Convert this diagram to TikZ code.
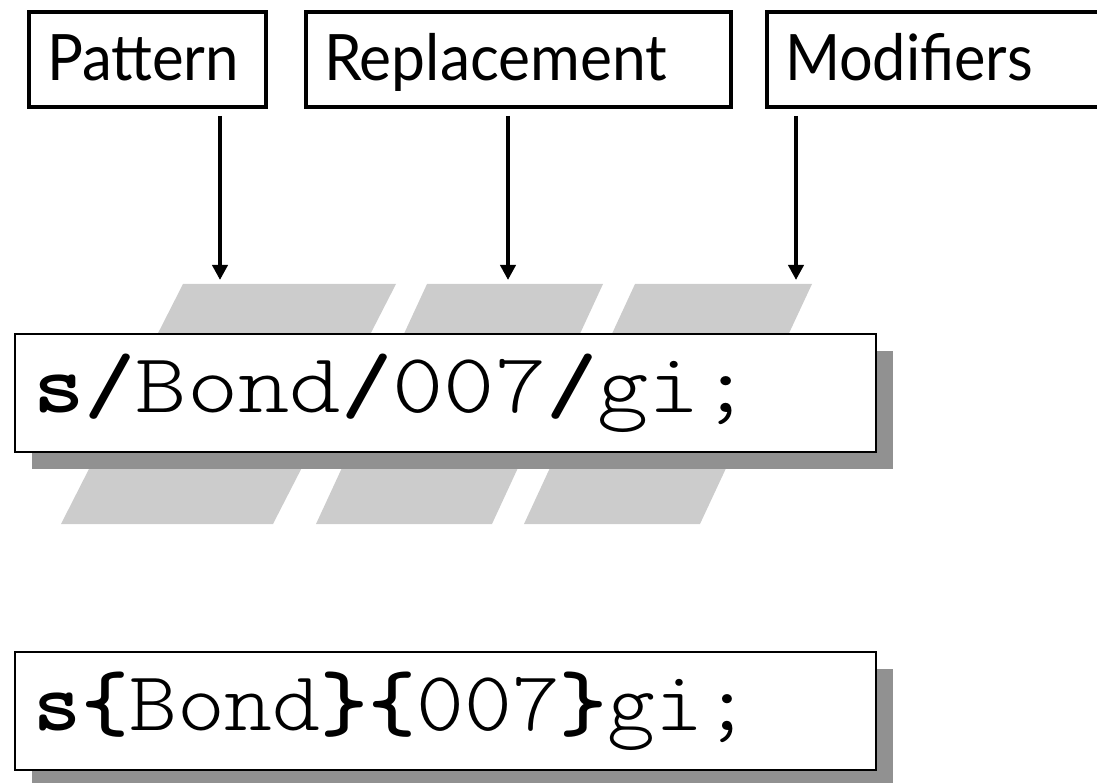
\documentclass[tikz,border=0pt]{standalone}
\usepackage{fontspec}
\newfontfamily\labelfont{Lato}
\newfontfamily\codefont[BoldFont=lmmonolt10-bold.otf]{lmmonolt10-regular.otf}
\usetikzlibrary{arrows.meta,shadows}
\definecolor{stripegray}{HTML}{CCCCCC}
\definecolor{shadowgray}{HTML}{919191}
% stretch a text box to a given width, keeping its natural height
\newcommand\fitw[2]{\resizebox{#1}{\height}{#2}}
\tikzset{
  labelbox/.style={draw, line width=4pt, anchor=north west, inner xsep=18pt, inner ysep=0pt,
    minimum height=95pt, align=left, text height=43pt, text depth=0pt,
    font=\labelfont\fontsize{64}{70}\selectfont},
  codebox/.style={draw, line width=2pt, fill=white, anchor=north west, inner xsep=18.7pt, inner ysep=0pt,
    minimum width=861.3pt, minimum height=118.3pt, text width=823.9pt, align=left,
    text height=40pt, text depth=0pt,
    drop shadow={shadow xshift=17pt, shadow yshift=-17pt, fill=shadowgray, opacity=1},
    font=\codefont\fontsize{84.6}{90}\selectfont},
  pointer/.style={line width=4pt, -{Triangle[length=15pt,width=15pt]}, shorten <=7pt},
  stripe/.style={fill=stripegray}
}
\begin{document}
\begin{tikzpicture}[x=1pt,y=-1pt]
\clip (0,0) rectangle (1097,783);
\useasboundingbox (0,0) rectangle (1097,783);

% slanted bands behind the first command
\fill[stripe] (183,284) -- (396,284) -- (273,524) -- (61,524) -- cycle;
\fill[stripe] (427,284) -- (603,284) -- (492,524) -- (316,524) -- cycle;
\fill[stripe] (635,284) -- (812,284) -- (700,524) -- (524,524) -- cycle;

% part labels
\node[labelbox, minimum width=237pt, text width=201pt] (pat) at (27,10) {\fitw{192pt}{Pattern}};
\node[labelbox, minimum width=425pt, text width=389pt] (rep) at (304,10) {\fitw{343pt}{Replacement}};
\node[labelbox, minimum width=355pt, text width=319pt] (mod) at (765,10) {\fitw{248pt}{Modifiers}};

% pointers down to the bands
\coordinate (ptip) at (220,280);
\coordinate (rtip) at (508,280);
\coordinate (mtip) at (796,280);
\draw[pointer] (ptip |- pat.south) -- (ptip);
\draw[pointer] (rtip |- rep.south) -- (rtip);
\draw[pointer] (mtip |- mod.south) -- (mtip);

% the two substitution commands
\node[codebox] (slash) at (13.7,332.7)
  {\fitw{718pt}{\textbf{s/}Bond\textbf{/}007\textbf{/}gi;}};
\node[codebox] (brace) at (13.7,650.7)
  {\fitw{718pt}{\textbf{s\{}Bond\textbf{\}\{}007\textbf{\}}gi;}};
\end{tikzpicture}
\end{document}
